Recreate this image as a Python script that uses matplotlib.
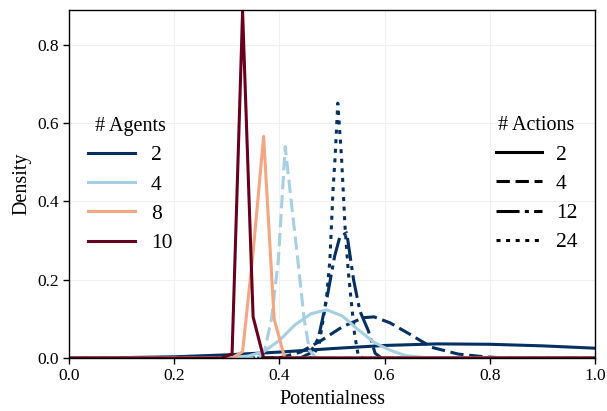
import matplotlib
matplotlib.use("Agg")
import matplotlib.pyplot as plt
from matplotlib.lines import Line2D

plt.rcParams['font.family'] = ['Liberation Serif', 'DejaVu Serif']
plt.rcParams['lines.scale_dashes'] = False

# colours for number of agents, styles for number of actions
agent_labels = ['2', '4', '8', '10']
agent_colors = ['#053061', '#a6cfe4', '#f4a582', '#67001f']
action_labels = ['2', '4', '12', '24']
action_styles = ['-', (0, (9.6, 4.1)), (0, (16.6, 3.8, 2.9, 3.8)), (0, (2.9, 4.0))]

# 2 agents, 2 actions
a2_s2_x = [0.0, 0.1, 0.2, 0.3, 0.4, 0.5, 0.6, 0.7, 0.8, 0.9, 1.0]
a2_s2_y = [0.0, 0.001, 0.003, 0.008, 0.015, 0.024, 0.032, 0.036, 0.035, 0.031, 0.025]
# 2 agents, 4 actions
a2_s4_x = [0.0, 0.40, 0.44, 0.48, 0.52, 0.56, 0.58, 0.61, 0.645, 0.69, 0.74, 0.79, 0.83, 1.0]
a2_s4_y = [0.0, 0.0, 0.015, 0.045, 0.08, 0.103, 0.105, 0.09, 0.063, 0.027, 0.01, 0.003, 0.0, 0.0]
# 2 agents, 12 actions
a2_s12_x = [0.0, 0.44, 0.458, 0.474, 0.49, 0.505, 0.515, 0.528, 0.541, 0.553, 0.569, 0.582, 0.594, 1.0]
a2_s12_y = [0.0, 0.0, 0.012, 0.05, 0.15, 0.26, 0.31, 0.32, 0.2, 0.12, 0.07, 0.012, 0.0, 0.0]
# 2 agents, 24 actions
a2_s24_x = [0.0, 0.46, 0.475, 0.483, 0.49, 0.496, 0.502, 0.506, 0.511, 0.518,
            0.525, 0.531, 0.537, 0.543, 0.55, 0.56, 1.0]
a2_s24_y = [0.0, 0.0, 0.03, 0.097, 0.16, 0.25, 0.43, 0.515, 0.651, 0.515,
            0.33, 0.22, 0.14, 0.06, 0.005, 0.0, 0.0]
# 4 agents, 2 actions
a4_s2_x = [0.0, 0.30, 0.34, 0.37, 0.40, 0.43, 0.46, 0.49, 0.52, 0.55, 0.58, 0.61, 0.64, 0.68, 0.72, 1.0]
a4_s2_y = [0.0, 0.0, 0.005, 0.016, 0.045, 0.085, 0.113, 0.123, 0.107, 0.072, 0.04, 0.02, 0.006, 0.001, 0.0, 0.0]
# 4 agents, 4 actions
a4_s4_x = [0.0, 0.36, 0.372, 0.385, 0.398, 0.411, 0.42, 0.435, 0.447, 0.457, 0.47, 1.0]
a4_s4_y = [0.0, 0.0, 0.02, 0.10, 0.25, 0.54, 0.43, 0.25, 0.10, 0.02, 0.0, 0.0]
# 8 agents, 2 actions
a8_s2_x = [0.0, 0.31, 0.33, 0.35, 0.37, 0.39, 0.41, 1.0]
a8_s2_y = [0.0, 0.0, 0.016, 0.27, 0.566, 0.10, 0.0, 0.0]
# 10 agents, 2 actions
a10_s2_x = [0.0, 0.29, 0.31, 0.33, 0.35, 0.37, 1.0]
a10_s2_y = [0.0, 0.0, 0.01, 0.885, 0.105, 0.0, 0.0]

series = [
    (a2_s2_x, a2_s2_y, 0, 0),
    (a2_s4_x, a2_s4_y, 0, 1),
    (a2_s12_x, a2_s12_y, 0, 2),
    (a2_s24_x, a2_s24_y, 0, 3),
    (a4_s2_x, a4_s2_y, 1, 0),
    (a4_s4_x, a4_s4_y, 1, 1),
    (a8_s2_x, a8_s2_y, 2, 0),
    (a10_s2_x, a10_s2_y, 3, 0),
]

fig = plt.figure(figsize=(6.07, 4.11), dpi=100)
ax = fig.add_axes([0.1137, 0.129, 0.8665, 0.8467])

for xs, ys, ai, si in series:
    ax.plot(xs, ys, color=agent_colors[ai], linestyle=action_styles[si], linewidth=2.2)

ax.set_xlim(0, 1.0)
ax.set_ylim(0, 0.889)
ax.set_xticks([0.0, 0.2, 0.4, 0.6, 0.8, 1.0])
ax.set_yticks([0.0, 0.2, 0.4, 0.6, 0.8])
ax.grid(True, color='#f0f0f0', linewidth=0.8)
ax.set_axisbelow(True)
for sp in ax.spines.values():
    sp.set_color('black')
    sp.set_linewidth(1.0)
ax.tick_params(direction='out', length=4, width=1, labelsize=12.5, colors='black')
ax.set_xlabel('Potentialness', fontsize=14.5)
ax.set_ylabel('Density', fontsize=14.5)

agent_handles = [Line2D([], [], color=c, linewidth=2.2) for c in agent_colors]
leg1 = ax.legend(agent_handles, agent_labels, title='# Agents', loc='center left',
                 bbox_to_anchor=(0.008, 0.497), frameon=False, fontsize=15.5,
                 title_fontsize=14.5, handlelength=2.15, handletextpad=0.75,
                 labelspacing=0.43, borderaxespad=0.3)
ax.add_artist(leg1)

action_handles = [Line2D([], [], color='black', linestyle=s, linewidth=2.2) for s in action_styles]
ax.legend(action_handles, action_labels, title='# Actions', loc='center right',
          bbox_to_anchor=(0.995, 0.499), frameon=False, fontsize=15.5,
          title_fontsize=14.5, handlelength=2.15, handletextpad=0.65,
          labelspacing=0.43, borderaxespad=0.3)

fig.savefig('out.png', dpi=100)
